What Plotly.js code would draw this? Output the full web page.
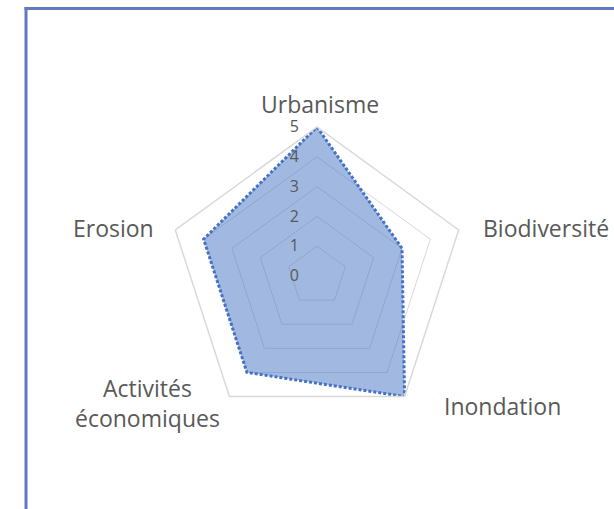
<!DOCTYPE html>
<html>
<head>
<meta charset="utf-8">
<script src="https://cdn.plot.ly/plotly-3.0.1.min.js"></script>
<style>
html,body{margin:0;padding:0;background:#fff;}
#chart{width:614px;height:509px;}
</style>
</head>
<body>
<div id="chart"></div>
<script>
const categories = ["Urbanisme", "Biodiversité", "Inondation", "Activités<br>économiques", "Erosion"];
const values = [5, 3, 5, 4, 4];
const radialTicks = [0, 1, 2, 3, 4, 5];

const W = 614, H = 509;
const cx = 317, cy = 276, R = 149;

// label placement (pixel offsets from the outer vertex, anchors)
const labelPlacement = [
  {dx: 3,   dy: -23, xa: "center", ya: "middle"},
  {dx: 22,  dy: -2,  xa: "left",   ya: "middle"},
  {dx: 37,  dy: 9,   xa: "left",   ya: "middle"},
  {dx: -82, dy: 6,   xa: "center", ya: "middle"},
  {dx: -19, dy: -2,  xa: "right",  ya: "middle"}
];

const trace = {
  type: "scatterpolar",
  r: values.concat([values[0]]),
  theta: categories.concat([categories[0]]),
  mode: "lines",
  fill: "toself",
  fillcolor: "rgba(68,114,196,0.5)",
  line: {color: "#4472C4", width: 3, dash: "3px,2px"},
  hoverinfo: "skip",
  showlegend: false
};

const annotations = categories.map((c, i) => {
  const a = (90 - i * 360 / categories.length) * Math.PI / 180;
  const vx = cx + R * Math.cos(a), vy = cy - R * Math.sin(a);
  const p = labelPlacement[i];
  return {
    xref: "paper", yref: "paper",
    x: (vx + p.dx) / W, y: 1 - (vy + p.dy) / H,
    text: c, showarrow: false,
    xanchor: p.xa, yanchor: p.ya, align: "center",
    font: {size: 23, color: "#595959", family: "Open Sans, sans-serif"}
  };
});

const layout = {
  width: W, height: H,
  margin: {l: 0, r: 0, t: 0, b: 0},
  paper_bgcolor: "#ffffff",
  showlegend: false,
  font: {family: "Open Sans, sans-serif", color: "#595959"},
  polar: {
    domain: {x: [(cx - R) / W, (cx + R) / W], y: [(H - cy - R) / H, (H - cy + R) / H]},
    bgcolor: "rgba(0,0,0,0)",
    gridshape: "linear",
    radialaxis: {
      range: [0, 5],
      tickvals: radialTicks,
      ticktext: radialTicks.map(String),
      angle: 90,
      tickangle: 90,
      side: "counterclockwise",
      showline: false,
      ticks: "outside",
      ticklen: 12,
      tickcolor: "rgba(0,0,0,0)",
      showgrid: true,
      gridcolor: "#d9d9d9",
      gridwidth: 1,
      tickfont: {size: 16, color: "#595959", family: "Open Sans, sans-serif"}
    },
    angularaxis: {
      type: "category",
      categoryarray: categories,
      rotation: 90,
      direction: "clockwise",
      showgrid: false,
      showline: true,
      linecolor: "#d9d9d9",
      linewidth: 1.5,
      ticks: "",
      showticklabels: false
    }
  },
  annotations: annotations,
  shapes: [
    {type: "line", xref: "paper", yref: "paper", x0: 24.5 / W, x1: 1.01, y0: 1 - 8.5 / H, y1: 1 - 8.5 / H,
     line: {color: "#6379c3", width: 3}},
    {type: "line", xref: "paper", yref: "paper", x0: 26 / W, x1: 26 / W, y0: 1 - 7 / H, y1: -0.01,
     line: {color: "#6379c3", width: 3}}
  ]
};

Plotly.newPlot("chart", [trace], layout, {displayModeBar: false, staticPlot: true});
</script>
</body>
</html>
